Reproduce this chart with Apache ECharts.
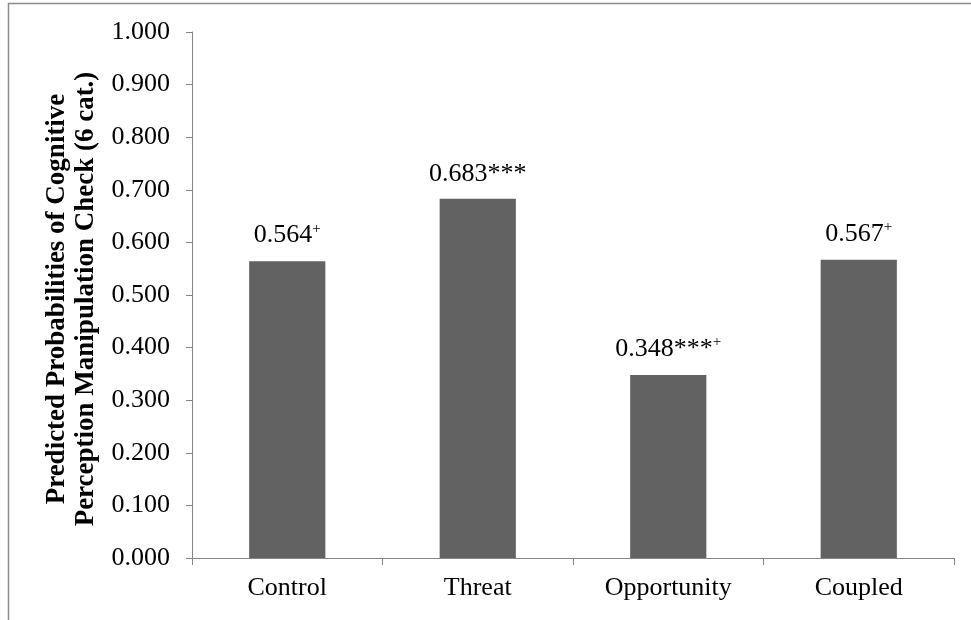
<!DOCTYPE html>
<html><head><meta charset="utf-8">
<script src="https://cdn.jsdelivr.net/npm/echarts@6/dist/echarts.min.js"></script>
<style>html,body{margin:0;padding:0;background:#fff}#c{width:971px;height:620px}</style>
</head><body><div id="c"></div>
<script>
const categories = ['Control', 'Threat', 'Opportunity', 'Coupled'];
const values = [0.564, 0.683, 0.348, 0.567];
const valueLabels = ['0.564', '0.683***', '0.348***', '0.567'];
const superscripts = ['+', '', '+', '+'];
const yTitle = 'Predicted Probabilities of Cognitive\nPerception Manipulation Check (6 cat.)';

const chart = echarts.init(document.getElementById('c'));
const FONT = '"Liberation Serif", "Times New Roman", serif';
chart.setOption({
  animation: false,
  textStyle: { fontFamily: FONT },
  graphic: [{
    type: 'rect', shape: { x: 8.5, y: 3.5, width: 1000, height: 700 },
    style: { fill: null, stroke: '#8c8c8c', lineWidth: 1.5 }, silent: true, z: -1
  }],
  grid: { left: 192, right: 17, top: 32, bottom: 62 },
  xAxis: {
    type: 'category', data: categories,
    axisLine: { lineStyle: { color: '#868686', width: 1 } },
    axisTick: { show: true, length: 7, lineStyle: { color: '#868686' } },
    axisLabel: { color: '#000', fontSize: 26, fontFamily: FONT, margin: 17 }
  },
  yAxis: {
    type: 'value', min: 0, max: 1, interval: 0.1,
    name: yTitle, nameLocation: 'middle', nameGap: 90, nameRotate: 90,
    nameTextStyle: { color: '#000', fontSize: 27, fontWeight: 'bold', fontFamily: FONT, lineHeight: 29, align: 'center', padding: [0, 8, 0, 0] },
    axisLine: { show: true, lineStyle: { color: '#868686', width: 1 } },
    axisTick: { show: true, length: 6, lineStyle: { color: '#868686' } },
    splitLine: { show: false },
    axisLabel: { color: '#000', fontSize: 26, fontFamily: FONT, margin: 22,
      formatter: v => v.toFixed(3) }
  },
  series: [{
    type: 'bar',
    data: values,
    barWidth: '40%',
    itemStyle: { color: '#626262' },
    label: {
      show: true, position: 'top', distance: 12,
      formatter: p => '{a|' + valueLabels[p.dataIndex] + '}' + (superscripts[p.dataIndex] ? '{s|' + superscripts[p.dataIndex] + '}' : ''),
      rich: {
        a: { fontSize: 26, color: '#000', fontFamily: FONT },
        s: { fontSize: 15, color: '#000', fontFamily: FONT, padding: [0, 0, 13, 0] }
      }
    }
  }]
});
</script></body></html>
